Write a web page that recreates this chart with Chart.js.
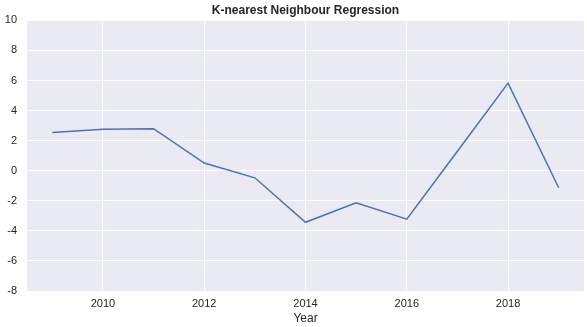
<!DOCTYPE html>
<html>
<head>
<meta charset="utf-8">
<script src="https://cdn.jsdelivr.net/npm/chart.js@4"></script>
<style>
  html, body { margin: 0; padding: 0; background: #ffffff; }
  #wrap { width: 587px; height: 327px; }
</style>
</head>
<body>
<div id="wrap"><canvas id="knnChart" width="587" height="327"></canvas></div>
<script>
const years = [2009, 2010, 2011, 2012, 2013, 2014, 2015, 2016, 2017, 2018, 2019];
const predicted = [2.54, 2.76, 2.80, 0.51, -0.47, -3.43, -2.13, -3.22, 1.3, 5.83, -1.13];
const xTicks = [2010, 2012, 2014, 2016, 2018];
const yTicks = [-8, -6, -4, -2, 0, 2, 4, 6, 8, 10];

const plotBackground = {
    id: 'plotBackground',
    beforeDraw(chart) {
        const a = chart.chartArea;
        const ctx = chart.ctx;
        ctx.save();
        ctx.fillStyle = '#EAEAF2';
        ctx.fillRect(a.left, a.top, a.right - a.left, a.bottom - a.top);
        ctx.restore();
    }
};

const tickFont = { family: "'Liberation Sans', Arial, sans-serif", size: 11 };

const config = {
    type: 'line',
    data: {
        datasets: [{
            label: 'K-nearest Neighbour Regression',
            data: years.map((y, i) => ({ x: y, y: predicted[i] })),
            borderColor: '#4C72B0',
            borderWidth: 1.5,
            pointRadius: 0,
            tension: 0,
            fill: false
        }]
    },
    options: {
        responsive: false,
        animation: false,
        layout: { padding: { top: 0, right: 3, bottom: 1, left: 0 } },
        plugins: {
            legend: { display: false },
            tooltip: { enabled: false },
            title: {
                display: true,
                fullSize: false,
                text: 'K-nearest Neighbour Regression',
                color: '#262626',
                font: { family: "'Liberation Sans', Arial, sans-serif", size: 12, weight: 'bold', lineHeight: 1.2 },
                padding: { top: 3, bottom: 3 }
            }
        },
        scales: {
            x: {
                type: 'linear',
                min: 2008.5,
                max: 2019.5,
                afterBuildTicks: (s) => { s.ticks = xTicks.map(v => ({ value: v })); },
                afterFit: (s) => { s.height = 35; },
                border: { display: false },
                grid: { color: '#ffffff', lineWidth: 1, drawTicks: false },
                ticks: { color: '#262626', font: tickFont, padding: 6, maxRotation: 0, callback: (v) => String(v) },
                title: {
                    display: true,
                    text: 'Year',
                    color: '#262626',
                    font: { family: "'Liberation Sans', Arial, sans-serif", size: 12 },
                    padding: { top: 2, bottom: 0 }
                }
            },
            y: {
                min: -8,
                max: 10,
                afterBuildTicks: (s) => { s.ticks = yTicks.map(v => ({ value: v })); },
                afterFit: (s) => { s.width = 27; },
                border: { display: false },
                grid: { color: '#ffffff', lineWidth: 1, drawTicks: false },
                ticks: { color: '#262626', font: tickFont, padding: 10 }
            }
        }
    },
    plugins: [plotBackground]
};

const knnChart = new Chart(document.getElementById('knnChart'), config);
</script>
</body>
</html>
